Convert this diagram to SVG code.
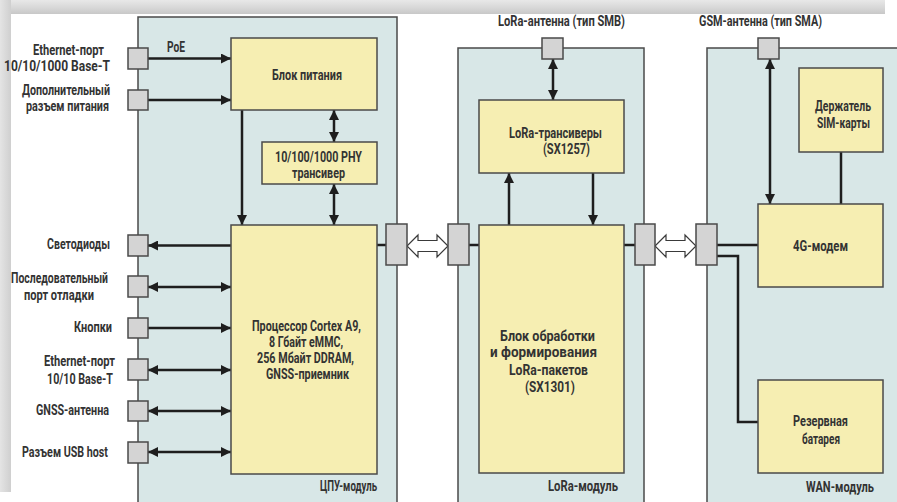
<svg xmlns="http://www.w3.org/2000/svg" width="897" height="502" viewBox="0 0 897 502">
<defs>
<linearGradient id="gTop" x1="0" y1="0" x2="0" y2="1"><stop offset="0" stop-color="#e8e8e8"/><stop offset="0.6" stop-color="#d6d6d6"/><stop offset="1" stop-color="#c8c8c8"/></linearGradient>
<linearGradient id="gLeft" x1="0" y1="0" x2="1" y2="0"><stop offset="0" stop-color="#e4e4e4"/><stop offset="1" stop-color="#cfcfcf"/></linearGradient>
<marker id="ah" viewBox="0 0 10 10" refX="10" refY="5" markerWidth="4" markerHeight="4" markerUnits="strokeWidth" orient="auto-start-reverse"><path d="M0,0 L10,5 L0,10 z" fill="#1e1e1e"/></marker>
<style>
.mod{fill:#d8e7e7;stroke:#4a4a4a;stroke-width:1.5}
.blk{fill:#f6eeb2;stroke:#4a4a4a;stroke-width:1.5}
.port{fill:#d4d4d4;stroke:#4a4a4a;stroke-width:1.5}
.ln{fill:none;stroke:#1e1e1e;stroke-width:2.5}
.a1{marker-end:url(#ah)}
.a2{marker-start:url(#ah);marker-end:url(#ah)}
.hol{fill:#ffffff;stroke:#3a3a3a;stroke-width:1.2}
text{font-family:Roboto,"Liberation Sans","DejaVu Sans",sans-serif;font-size:14px;font-weight:bold;fill:#333333}
</style>
</defs>
<rect width="897" height="502" fill="#ffffff"/>
<rect x="0" y="0" width="885" height="14" fill="url(#gTop)"/>
<rect x="0" y="0" width="11" height="492" fill="url(#gLeft)"/>

<g id="cpu-module">
<rect class="mod" x="138" y="17" width="259" height="500"/>
<text x="320" y="491" textLength="57" lengthAdjust="spacingAndGlyphs">ЦПУ-модуль</text>
</g>
<g id="lora-module">
<rect class="mod" x="458" y="48" width="186" height="470"/>
<text x="548" y="491" textLength="70" lengthAdjust="spacingAndGlyphs">LoRa-модуль</text>
</g>
<g id="wan-module">
<rect class="mod" x="707" y="48" width="200" height="470"/>
<text x="806" y="492" textLength="68" lengthAdjust="spacingAndGlyphs">WAN-модуль</text>
</g>

<g id="connectors">
<path class="ln a1" d="M148,58.5 H231"/>
<path class="ln a1" d="M148,100 H231"/>
<path class="ln a1" d="M242,110 V225"/>
<path class="ln a2" d="M334,110 V142"/>
<path class="ln a2" d="M334,184 V225"/>
<path class="ln a1" d="M231,245.5 H148"/>
<path class="ln a2" d="M148,287 H231"/>
<path class="ln a1" d="M148,328 H231"/>
<path class="ln a2" d="M148,370 H231"/>
<path class="ln a2" d="M148,411 H231"/>
<path class="ln a2" d="M148,452 H231"/>
<path class="ln" d="M377,245 H386"/>
<path class="ln" d="M469,245 H479"/>
<path class="ln" d="M624,245 H635"/>
<path class="ln a2" d="M553,59 V100"/>
<path class="ln a1" d="M509,225 V173"/>
<path class="ln a1" d="M593,173 V225"/>
<path class="ln a2" d="M770,59 V204"/>
<path class="ln" d="M841,152 V204"/>
<path class="ln" d="M717,245 H758"/>
<path class="ln" d="M717,256 H738 V422 H758"/>
<path class="hol" d="M407,246 L418,235 V240.5 H437 V235 L448,246 L437,257 V251.5 H418 V257 Z"/>
<path class="hol" d="M655,246 L666,235 V240.5 H685 V235 L696,246 L685,257 V251.5 H666 V257 Z"/>
<text x="167" y="52" textLength="18" lengthAdjust="spacingAndGlyphs">PoE</text>
</g>

<g id="port-eth1"><rect class="port" x="128" y="48" width="20" height="21"/><text x="33" y="55" textLength="71" lengthAdjust="spacingAndGlyphs">Ethernet-порт</text><text x="4" y="71" textLength="106" lengthAdjust="spacingAndGlyphs">10/10/1000 Base-T</text></g>
<g id="port-power"><rect class="port" x="128" y="90" width="20" height="20"/><text x="22" y="95" textLength="88" lengthAdjust="spacingAndGlyphs">Дополнительный</text><text x="26" y="111" textLength="83" lengthAdjust="spacingAndGlyphs">разъем питания</text></g>
<g id="port-led"><rect class="port" x="128" y="235" width="20" height="21"/><text x="47" y="249" textLength="63" lengthAdjust="spacingAndGlyphs">Светодиоды</text></g>
<g id="port-debug"><rect class="port" x="128" y="276" width="20" height="21"/><text x="11" y="283" textLength="97" lengthAdjust="spacingAndGlyphs">Последовательный</text><text x="24" y="300" textLength="70" lengthAdjust="spacingAndGlyphs">порт отладки</text></g>
<g id="port-buttons"><rect class="port" x="128" y="318" width="20" height="20"/><text x="74" y="332" textLength="38" lengthAdjust="spacingAndGlyphs">Кнопки</text></g>
<g id="port-eth2"><rect class="port" x="128" y="359" width="20" height="21"/><text x="44" y="366" textLength="71" lengthAdjust="spacingAndGlyphs">Ethernet-порт</text><text x="47" y="384" textLength="66" lengthAdjust="spacingAndGlyphs">10/10 Base-T</text></g>
<g id="port-gnss"><rect class="port" x="128" y="401" width="20" height="20"/><text x="36" y="415" textLength="73" lengthAdjust="spacingAndGlyphs">GNSS-антенна</text></g>
<g id="port-usb"><rect class="port" x="128" y="442" width="20" height="21"/><text x="22" y="457" textLength="86" lengthAdjust="spacingAndGlyphs">Разъем USB host</text></g>

<g id="psu"><rect class="blk" x="231" y="38" width="146" height="72"/><text x="272" y="80" textLength="70" lengthAdjust="spacingAndGlyphs">Блок питания</text></g>
<g id="phy"><rect class="blk" x="262" y="142" width="115" height="42"/><text x="275" y="162" textLength="87" lengthAdjust="spacingAndGlyphs">10/100/1000 PHY</text><text x="292" y="178" textLength="53" lengthAdjust="spacingAndGlyphs">трансивер</text></g>
<g id="cpu"><rect class="blk" x="231" y="225" width="146" height="249"/><text x="252" y="331" textLength="109" lengthAdjust="spacingAndGlyphs">Процессор Cortex A9,</text><text x="269" y="347" textLength="74" lengthAdjust="spacingAndGlyphs">8 Гбайт eMMC,</text><text x="257" y="363" textLength="97" lengthAdjust="spacingAndGlyphs">256 Мбайт DDRAM,</text><text x="266" y="379" textLength="83" lengthAdjust="spacingAndGlyphs">GNSS-приемник</text></g>

<g id="port-cpu-right"><rect class="port" x="386" y="224" width="21" height="41"/></g>
<g id="port-lora-left"><rect class="port" x="448" y="224" width="21" height="41"/></g>
<g id="port-lora-right"><rect class="port" x="635" y="224" width="20" height="41"/></g>
<g id="port-wan-left"><rect class="port" x="696" y="224" width="21" height="41"/></g>

<g id="lora-antenna"><rect class="port" x="542" y="38" width="21" height="21"/><text x="498" y="26" textLength="127" lengthAdjust="spacingAndGlyphs">LoRa-антенна (тип SMB)</text></g>
<g id="lora-trx"><rect class="blk" x="479" y="100" width="145" height="73"/><text x="509" y="138" textLength="93" lengthAdjust="spacingAndGlyphs">LoRa-трансиверы</text><text x="543" y="154" textLength="47" lengthAdjust="spacingAndGlyphs">(SX1257)</text></g>
<g id="lora-proc"><rect class="blk" x="479" y="225" width="145" height="248"/><text x="500" y="341" textLength="95" lengthAdjust="spacingAndGlyphs">Блок обработки</text><text x="490" y="357" textLength="107" lengthAdjust="spacingAndGlyphs">и формирования</text><text x="509" y="375" textLength="79" lengthAdjust="spacingAndGlyphs">LoRa-пакетов</text><text x="525" y="392" textLength="50" lengthAdjust="spacingAndGlyphs">(SX1301)</text></g>

<g id="gsm-antenna"><rect class="port" x="758" y="38" width="21" height="21"/><text x="699" y="26" textLength="123" lengthAdjust="spacingAndGlyphs">GSM-антенна (тип SMA)</text></g>
<g id="sim"><rect class="blk" x="799" y="68" width="84" height="84"/><text x="815" y="111" textLength="56" lengthAdjust="spacingAndGlyphs">Держатель</text><text x="817" y="128" textLength="53" lengthAdjust="spacingAndGlyphs">SIM-карты</text></g>
<g id="modem"><rect class="blk" x="758" y="204" width="125" height="83"/><text x="793" y="251" textLength="55" lengthAdjust="spacingAndGlyphs">4G-модем</text></g>
<g id="battery"><rect class="blk" x="758" y="380" width="125" height="93"/><text x="793" y="426" textLength="55" lengthAdjust="spacingAndGlyphs">Резервная</text><text x="802" y="444" textLength="38" lengthAdjust="spacingAndGlyphs">батарея</text></g>
</svg>
